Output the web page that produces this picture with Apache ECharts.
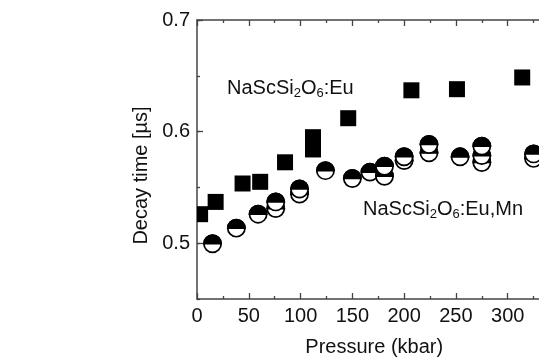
<!DOCTYPE html>
<html>
<head>
<meta charset="utf-8">
<script src="https://cdn.jsdelivr.net/npm/echarts@6/dist/echarts.min.js"></script>
<style>
  html, body { margin: 0; padding: 0; background: #fff; overflow: hidden; }
  #chart { width: 600px; height: 362px; }
</style>
</head>
<body>
<div id="chart"></div>
<script>
// NaScSi2O6:Eu — decay time vs pressure
const euPressure = [3, 18, 44, 61, 85, 112, 112, 146, 207, 251, 314];
const euDecay    = [0.526, 0.537, 0.5535, 0.555, 0.5725, 0.584, 0.595, 0.612, 0.637, 0.638, 0.6485];

// NaScSi2O6:Eu,Mn — decay time vs pressure (lower value first at repeated pressures)
const euMnPressure = [15, 38, 59, 76, 76, 99, 99, 124, 150, 167, 181, 181, 200, 200, 224, 224, 254, 275, 275, 275, 325, 325];
const euMnDecay    = [0.4995, 0.5135, 0.526, 0.531, 0.537, 0.544, 0.5486, 0.565, 0.558, 0.5637, 0.560, 0.569, 0.574, 0.5775, 0.581, 0.5885, 0.5774, 0.5723, 0.5785, 0.587, 0.576, 0.580];

const yLabelValues = [0.5, 0.6, 0.7];

const FONT = 'Liberation Sans, Arial, sans-serif';
const AXIS_COLOR = '#444';
const TEXT_COLOR = '#111';

const zip = (xs, ys) => xs.map((x, i) => [x, ys[i]]);

const chart = echarts.init(document.getElementById('chart'), null, { renderer: 'canvas' });

function gridRect(params) {
  const c = params.coordSys;
  return { x: c.x, y: c.y, width: c.width, height: c.height };
}

// filled square, clipped to the plotting area
function renderSquare(params, api) {
  const p = api.coord([api.value(0), api.value(1)]);
  const s = 16;
  const rect = echarts.graphic.clipRectByRect(
    { x: p[0] - s / 2, y: p[1] - s / 2, width: s, height: s },
    gridRect(params)
  );
  if (!rect) return null;
  return { type: 'rect', shape: rect, style: { fill: '#000' } };
}

// open circle with its upper half filled
function renderHalfCircle(params, api) {
  const p = api.coord([api.value(0), api.value(1)]);
  const r = 8.6;
  return {
    type: 'group',
    children: [
      { type: 'circle', shape: { cx: p[0], cy: p[1], r: r }, style: { fill: '#fff', stroke: '#000', lineWidth: 1.7 } },
      { type: 'sector', shape: { cx: p[0], cy: p[1], r0: 0, r: r, startAngle: Math.PI, endAngle: Math.PI * 2, clockwise: true }, style: { fill: '#000', stroke: '#000', lineWidth: 1.7 } }
    ]
  };
}

const richLabel = {
  m: { fontSize: 20, lineHeight: 24, fontFamily: FONT, fill: TEXT_COLOR },
  s: { fontSize: 13, lineHeight: 15, fontFamily: FONT, fill: TEXT_COLOR, verticalAlign: 'bottom' }
};

const xCommon = {
  type: 'value', min: 0, max: 350, interval: 50,
  axisLine: { show: true, onZero: false, lineStyle: { color: AXIS_COLOR, width: 1.5 } },
  axisTick: { show: true, inside: true, length: 6, lineStyle: { color: AXIS_COLOR, width: 1.3 } },
  minorTick: { show: true, splitNumber: 2, length: 3, lineStyle: { color: AXIS_COLOR, width: 1.3 } },
  splitLine: { show: false }
};

const option = {
  backgroundColor: '#fff',
  animation: false,
  grid: { left: 197, top: 20, width: 362.5, height: 282.7, containLabel: false },
  xAxis: [
    Object.assign({}, xCommon, {
      position: 'bottom',
      name: 'Pressure (kbar)', nameLocation: 'middle', nameGap: 38,
      nameTextStyle: { fontSize: 20, fontFamily: FONT, color: TEXT_COLOR, padding: [0, 8, 0, 0] },
      axisLabel: { show: true, margin: 7, fontSize: 20, fontFamily: FONT, color: TEXT_COLOR }
    }),
    Object.assign({}, xCommon, { position: 'top', axisLabel: { show: false } })
  ],
  yAxis: [
    {
      type: 'value', min: 0.45, max: 0.7, interval: 0.05, position: 'left',
      name: 'Decay time [µs]', nameLocation: 'middle', nameGap: 39, nameRotate: 90,
      nameTextStyle: { fontSize: 20, fontFamily: FONT, color: TEXT_COLOR, padding: [0, 32, 0, 0] },
      axisLine: { show: true, onZero: false, lineStyle: { color: AXIS_COLOR, width: 1.5 } },
      axisTick: { show: true, inside: true, length: 3, lineStyle: { color: AXIS_COLOR, width: 1.3 } },
      axisLabel: {
        show: true, margin: 7, fontSize: 20, fontFamily: FONT, color: TEXT_COLOR,
        customValues: yLabelValues, formatter: v => v.toFixed(1)
      },
      splitLine: { show: false }
    },
    {
      type: 'value', min: 0.45, max: 0.7, interval: 0.05, position: 'left', offset: 0,
      axisLine: { show: false },
      axisTick: { show: true, inside: true, length: 6, customValues: yLabelValues, lineStyle: { color: AXIS_COLOR, width: 1.3 } },
      axisLabel: { show: false },
      splitLine: { show: false }
    }
  ],
  graphic: [
    { type: 'text', left: 227, top: 78, z: 10,
      style: { text: '{m|NaScSi}{s|2}{m|O}{s|6}{m|:Eu}', rich: richLabel } },
    { type: 'text', left: 363, top: 199, z: 10,
      style: { text: '{m|NaScSi}{s|2}{m|O}{s|6}{m|:Eu,Mn}', rich: richLabel } }
  ],
  series: [
    { name: 'NaScSi2O6:Eu', type: 'custom', renderItem: renderSquare, data: zip(euPressure, euDecay), encode: { x: 0, y: 1 } },
    { name: 'NaScSi2O6:Eu,Mn', type: 'custom', renderItem: renderHalfCircle, data: zip(euMnPressure, euMnDecay), encode: { x: 0, y: 1 } }
  ]
};

chart.setOption(option);
</script>
</body>
</html>
